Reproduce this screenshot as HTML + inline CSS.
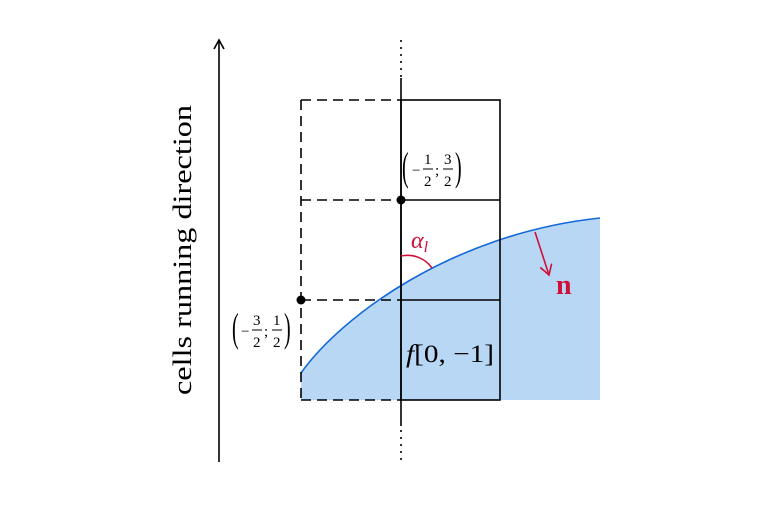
<!DOCTYPE html>
<html><head><meta charset="utf-8"><style>
body{margin:0;background:#fff}
svg{display:block;font-family:"Liberation Serif",serif}
</style></head><body>
<svg width="760" height="506" viewBox="0 0 760 506">
<defs>
<marker id="ah" markerWidth="12" markerHeight="12" refX="10" refY="6" orient="auto" markerUnits="userSpaceOnUse">
<path d="M1,1 L10,6 L1,11" fill="none" stroke="#000" stroke-width="1.6"/></marker>
<marker id="ahr" markerWidth="14" markerHeight="14" refX="11" refY="7" orient="auto" markerUnits="userSpaceOnUse">
<path d="M1,1 L11,7 L1,13" fill="none" stroke="#d0103a" stroke-width="1.6"/></marker>
</defs>
<path d="M301,373 C340,318 450,234 600,218 L600,400 L301,400 Z" fill="#b8d7f5"/>
<path d="M301,373 C340,318 450,234 600,218" fill="none" stroke="#1368d9" stroke-width="1.6"/>
<g stroke="#000" stroke-width="1.6" stroke-dasharray="10,6" fill="none">
<line x1="301" y1="100" x2="301" y2="400"/>
<line x1="301" y1="100" x2="401" y2="100"/>
<line x1="301" y1="200" x2="401" y2="200"/>
<line x1="301" y1="300" x2="401" y2="300"/>
<line x1="301" y1="400" x2="401" y2="400"/>
</g>
<g stroke="#000" stroke-width="1.6" fill="none">
<rect x="401" y="100" width="99" height="300"/>
<line x1="401" y1="200" x2="500" y2="200"/>
<line x1="401" y1="300" x2="500" y2="300"/>
<line x1="401" y1="78" x2="401" y2="426"/>
</g>
<g stroke="#000" stroke-width="1.6" stroke-dasharray="2,5">
<line x1="401" y1="40" x2="401" y2="78"/>
<line x1="401" y1="430" x2="401" y2="460"/>
</g>
<line x1="219" y1="462" x2="219" y2="40" stroke="#000" stroke-width="1.6" marker-end="url(#ah)"/>
<text transform="translate(191,250) rotate(-90)" text-anchor="middle" font-size="26" textLength="290" lengthAdjust="spacingAndGlyphs">cells running direction</text>
<circle cx="401" cy="200" r="4.5" fill="#000"/>
<circle cx="301" cy="300" r="4.5" fill="#000"/>
<g font-size="15">
<text x="402" y="180" font-size="40" transform="translate(402,0) scale(0.5,1) translate(-402,0)">(</text>
<text x="412" y="175">−</text>
<text x="424" y="164">1</text><line x1="423" y1="169" x2="433" y2="169" stroke="#000"/><text x="424" y="186">2</text>
<text x="435" y="175">;</text>
<text x="444" y="164">3</text><line x1="443" y1="169" x2="453" y2="169" stroke="#000"/><text x="444" y="186">2</text>
<text x="455" y="180" font-size="40" transform="translate(455,0) scale(0.5,1) translate(-455,0)">)</text>
</g>
<g font-size="15">
<text x="232" y="341" font-size="40" transform="translate(232,0) scale(0.5,1) translate(-232,0)">(</text>
<text x="241" y="336">−</text>
<text x="253" y="325">3</text><line x1="252" y1="330" x2="262" y2="330" stroke="#000"/><text x="253" y="347">2</text>
<text x="264" y="336">;</text>
<text x="273" y="325">1</text><line x1="272" y1="330" x2="282" y2="330" stroke="#000"/><text x="273" y="347">2</text>
<text x="284" y="341" font-size="40" transform="translate(284,0) scale(0.5,1) translate(-284,0)">)</text>
</g>
<text x="406" y="362" font-size="25" textLength="88" lengthAdjust="spacingAndGlyphs"><tspan font-style="italic">f</tspan>[0, −1]</text>
<path d="M401,256 A30,30 0 0 1 432,268" fill="none" stroke="#d0103a" stroke-width="1.6"/>
<text x="411" y="248" font-size="24" fill="#d0103a" font-style="italic">α<tspan font-size="16" dy="4">l</tspan></text>
<line x1="535" y1="232" x2="549" y2="275" stroke="#d0103a" stroke-width="1.6" marker-end="url(#ahr)"/>
<text x="556" y="294" font-size="28" font-weight="bold" fill="#d0103a">n</text>
</svg>
</body></html>
